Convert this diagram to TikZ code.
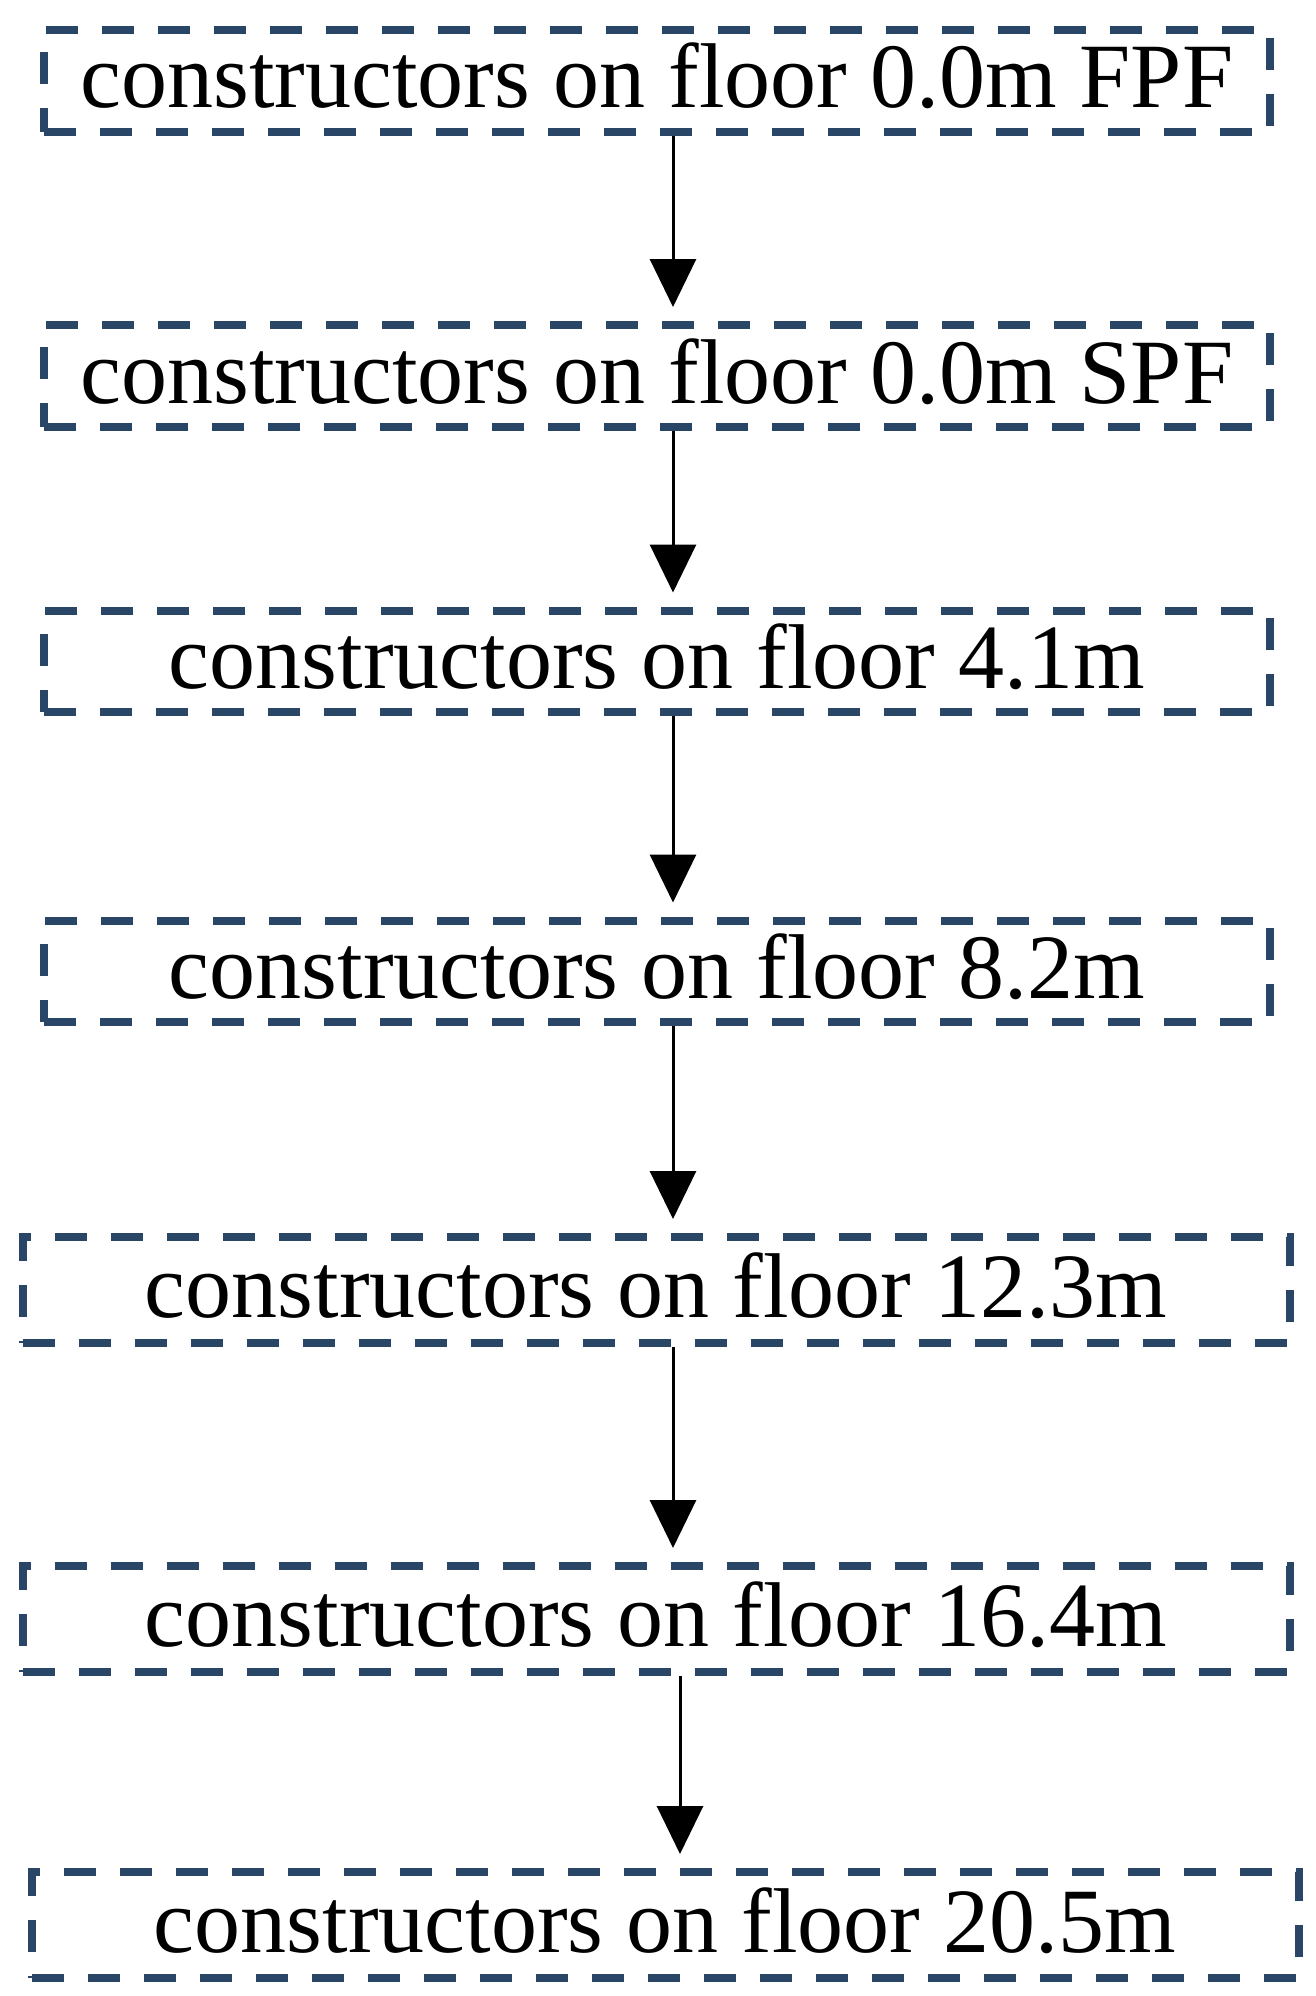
\documentclass[tikz,border=0pt]{standalone}
\usepackage{amsmath}
\usepackage{fontspec}
\setmainfont{Liberation Serif}
\usepackage{tikz}
\usetikzlibrary{arrows.meta}
\definecolor{boxblue}{RGB}{41,70,102}

\begin{document}
\begin{tikzpicture}[x=1pt,y=-1pt,
	floorbox/.style={draw=boxblue,line width=8pt,dash pattern=on 32pt off 24pt,inner sep=0pt,text height=62pt,text depth=8pt,font=\fontsize{92}{100}\selectfont},
	flow/.style={-{Triangle[length=48pt,width=46pt]},line width=3pt,shorten >=14pt}]
	\useasboundingbox (0,0) rectangle (1316,1996);
	\node[floorbox,minimum width=1226pt,minimum height=102pt] (f1) at (657,81) {constructors on floor 0.0m FPF};
	\node[floorbox,minimum width=1226pt,minimum height=102pt] (f2) at (657,376) {constructors on floor 0.0m SPF};
	\node[floorbox,minimum width=1226pt,minimum height=101pt] (f3) at (657,661) {constructors on floor 4.1m};
	\node[floorbox,minimum width=1226pt,minimum height=101pt] (f4) at (657,971) {constructors on floor 8.2m};
	\node[floorbox,minimum width=1267pt,minimum height=106pt] (f5) at (656,1290) {constructors on floor 12.3m};
	\node[floorbox,minimum width=1267pt,minimum height=106pt] (f6) at (656,1619) {constructors on floor 16.4m};
	\node[floorbox,minimum width=1267pt,minimum height=106pt] (f7) at (665,1925) {constructors on floor 20.5m};
	\coordinate (c1) at (673,0);
	\coordinate (c2) at (680,0);
	\draw[flow] (f1.south -| c1) -- (f2.north -| c1);
	\draw[flow] (f2.south -| c1) -- (f3.north -| c1);
	\draw[flow] (f3.south -| c1) -- (f4.north -| c1);
	\draw[flow] (f4.south -| c1) -- (f5.north -| c1);
	\draw[flow] (f5.south -| c1) -- (f6.north -| c1);
	\draw[flow] (f6.south -| c2) -- (f7.north -| c2);
\end{tikzpicture}
\end{document}
